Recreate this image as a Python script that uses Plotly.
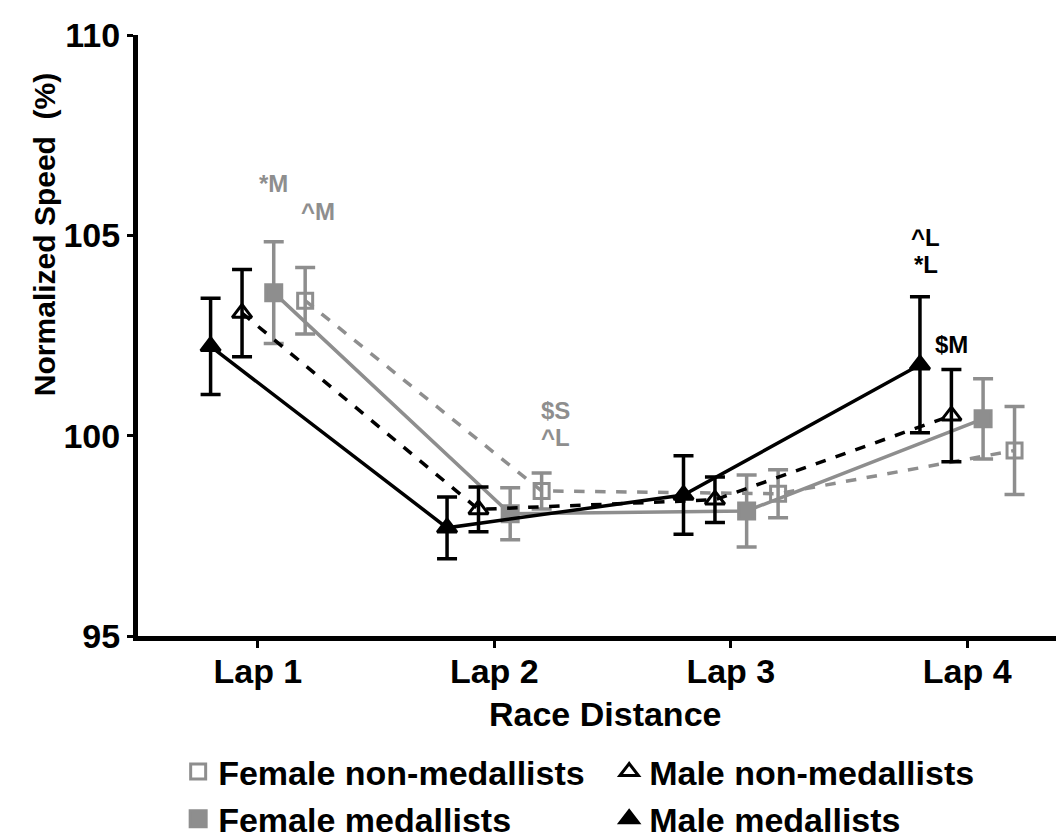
import plotly.graph_objects as go

laps = ["Lap 1", "Lap 2", "Lap 3", "Lap 4"]
lap_pos = [1, 2, 3, 4]

female_non_med = [103.37, 98.62, 98.55, 99.63]
female_non_med_err = [0.83, 0.45, 0.6, 1.1]
female_med = [103.57, 98.05, 98.12, 100.42]
female_med_err = [1.27, 0.65, 0.9, 1.0]
male_non_med = [103.06, 98.16, 98.4, 100.5]
male_non_med_err = [1.09, 0.56, 0.57, 1.15]
male_med = [102.23, 97.7, 98.52, 101.77]
male_med_err = [1.2, 0.77, 0.98, 1.7]

GRAY = "#8e8e8e"
BLACK = "#000000"
FONT = "Liberation Sans, Arial, sans-serif"

series = [
    # name, values, err, offset, color, symbol, dash, legendrank, marker size
    ("Female non-medallists", female_non_med, female_non_med_err, 0.2, GRAY, "square-open", "dash", 1, 15),
    ("Female medallists", female_med, female_med_err, 0.067, GRAY, "square", "solid", 3, 16),
    ("Male non-medallists", male_non_med, male_non_med_err, -0.067, BLACK, "triangle-up-open", "dash", 2, 17),
    ("Male medallists", male_med, male_med_err, -0.2, BLACK, "triangle-up", "solid", 4, 17),
]
offsets = {s[0]: s[3] for s in series}

fig = go.Figure()
for name, vals, err, off, col, sym, dash, rank, msize in series:
    xs = [p + off for p in lap_pos]
    fig.add_trace(go.Scatter(
        x=xs, y=vals, mode="lines+markers", name=name, showlegend=False,
        line=dict(color=col, width=3.5, dash=dash),
        marker=dict(symbol=sym, size=msize, color=col,
                    line=dict(color=col, width=3)),
        error_y=dict(type="data", array=err, visible=True, color=col,
                     thickness=3.5, width=10),
    ))
    fig.add_trace(go.Scatter(
        x=[None], y=[None], mode="markers", name=name, legendrank=rank,
        marker=dict(symbol=sym, size=msize, color=col,
                    line=dict(color=col, width=3)),
    ))

# significance labels: (lap index, series name, x shift, y value, text, color)
sig_labels = [
    (1, "Female medallists", 0.0, 106.3, "*M", GRAY),
    (1, "Female non-medallists", 0.055, 105.6, "^M", GRAY),
    (2, "Female non-medallists", 0.06, 100.62, "$S", GRAY),
    (2, "Female non-medallists", 0.06, 99.95, "^L", GRAY),
    (4, "Male medallists", 0.025, 104.95, "^L", BLACK),
    (4, "Male medallists", 0.025, 104.27, "*L", BLACK),
    (4, "Male non-medallists", 0.0, 102.27, "$M", BLACK),
]
for lap, sname, dx, yv, txt, col in sig_labels:
    fig.add_annotation(x=lap + offsets[sname] + dx, y=yv, text=txt, showarrow=False,
                       font=dict(family=FONT, size=24, color=col, weight="bold"),
                       xref="x", yref="y")

fig.add_annotation(text="Normalized Speed  (%)", xref="paper", yref="paper",
                   x=-0.1, y=0.668, textangle=-90, showarrow=False,
                   xanchor="center", yanchor="middle",
                   font=dict(family=FONT, size=30, color=BLACK, weight="bold"))
fig.add_annotation(text="Race Distance", xref="paper", yref="paper",
                   x=0.5, y=-0.13, showarrow=False, xanchor="center", yanchor="middle",
                   font=dict(family=FONT, size=34, color=BLACK, weight="bold"))

fig.update_layout(
    width=1064, height=840,
    margin=dict(l=130, r=0, t=27, b=202),
    paper_bgcolor="white", plot_bgcolor="white",
    font=dict(family=FONT, color=BLACK),
    xaxis=dict(range=[0.493, 4.443], tickvals=lap_pos, ticktext=laps,
               showgrid=False, zeroline=False, showline=True, linecolor=BLACK,
               linewidth=5, ticks="outside", ticklen=7, tickwidth=3, tickcolor=BLACK,
               ticklabelstandoff=-6,
               tickfont=dict(family=FONT, size=34, color=BLACK, weight="bold")),
    yaxis=dict(range=[95, 110], tickvals=[95, 100, 105, 110],
               showgrid=False, zeroline=False, showline=True, linecolor=BLACK,
               linewidth=5, ticks="outside", ticklen=6, tickwidth=3, tickcolor=BLACK,
               tickfont=dict(family=FONT, size=34, color=BLACK, weight="bold")),
    legend=dict(orientation="h", x=0.043, y=-0.178, xanchor="left", yanchor="top",
                entrywidth=386, entrywidthmode="pixels", itemsizing="trace",
                font=dict(family=FONT, size=34, color=BLACK, weight="bold"),
                traceorder="normal", tracegroupgap=0, itemwidth=30),
    showlegend=True,
)

fig.write_html("out.html")
